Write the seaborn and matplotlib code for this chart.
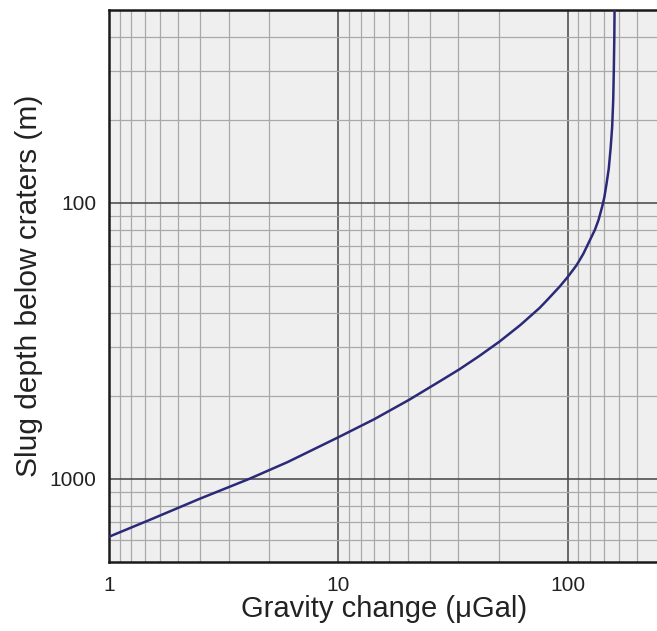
import matplotlib
matplotlib.use("Agg")
import matplotlib.pyplot as plt
import matplotlib.ticker as mticker
import seaborn as sns
import pandas as pd

# Curve
gravity_ugal = [1.0, 1.5, 2.48, 4.08, 6.0, 10.0, 14.3, 20.3, 27.5, 33.6, 41.0, 50.3,
                62.0, 75.3, 80.7, 92.0, 100.0, 109.1, 116.6, 131.1, 136.0, 141.0,
                144.0, 147.3, 150.6, 153.5, 155.8, 157.5, 158.4, 159.2, 159.6]
depth_m = [1620, 1409, 1181, 1000, 869, 706, 608, 517, 444, 401, 359, 318,
           277, 240, 226, 201, 185, 168, 153, 125, 115, 103,
           95.5, 85, 75, 63, 53, 42, 33, 25, 20]

x_major = [1, 10, 100]
x_labels = ["1", "10", "100"]
y_major = [100, 1000]
y_labels = ["100", "1000"]
x_minor = [10 / k for k in range(2, 10)] + [100 / k for k in range(2, 10)] + [1000 / k for k in range(4, 10)]
y_minor = [1 / v for v in (0.05, 0.04, 0.03, 0.02)] + \
          [1 / (k / 1000) for k in range(2, 10)] + \
          [1 / (k / 10000) for k in range(6, 10)]

df = pd.DataFrame({"gravity": gravity_ugal, "depth": depth_m})

sns.set_style("white")
plt.rcParams["font.family"] = ["Liberation Sans", "DejaVu Sans"]

fig = plt.figure(figsize=(6.57, 6.31), dpi=100)
ax = fig.add_axes([109 / 657, 69 / 631, 550.3 / 657, 552 / 631])
ax.set_facecolor("#efefef")

sns.lineplot(data=df, x="gravity", y="depth", sort=False, color="#2b2a78",
             linewidth=1.8, ax=ax, zorder=5)

ax.set_xscale("log")
ax.set_yscale("log")
ax.set_xlim(1, 250)
ax.set_ylim(2000, 20)

ax.xaxis.set_major_locator(mticker.FixedLocator(x_major))
ax.xaxis.set_major_formatter(mticker.FixedFormatter(x_labels))
ax.xaxis.set_minor_locator(mticker.FixedLocator(x_minor))
ax.xaxis.set_minor_formatter(mticker.NullFormatter())
ax.yaxis.set_major_locator(mticker.FixedLocator(y_major))
ax.yaxis.set_major_formatter(mticker.FixedFormatter(y_labels))
ax.yaxis.set_minor_locator(mticker.FixedLocator(y_minor))
ax.yaxis.set_minor_formatter(mticker.NullFormatter())

ax.grid(which="minor", color="#a9a9a9", linewidth=0.9, zorder=1)
ax.grid(which="major", color="#444444", linewidth=1.1, zorder=2)
ax.set_axisbelow(True)

ax.tick_params(which="minor", length=0)
ax.tick_params(which="major", length=4, width=0.8, color="#999999",
               labelsize=15, labelcolor="#222222", pad=5)
ax.tick_params(axis="x", which="major", length=3, pad=7)

for side in ("top", "left", "bottom"):
    ax.spines[side].set_visible(True)
    ax.spines[side].set_color("#1a1a1a")
    ax.spines[side].set_linewidth(1.8)
ax.spines["right"].set_visible(False)

ax.set_xlabel("Gravity change (\u03bcGal)", fontsize=21, color="#222222", labelpad=0)
ax.set_ylabel("Slug depth below craters (m)", fontsize=21.5, color="#222222", labelpad=5)

fig.savefig("out.png", dpi=100)
